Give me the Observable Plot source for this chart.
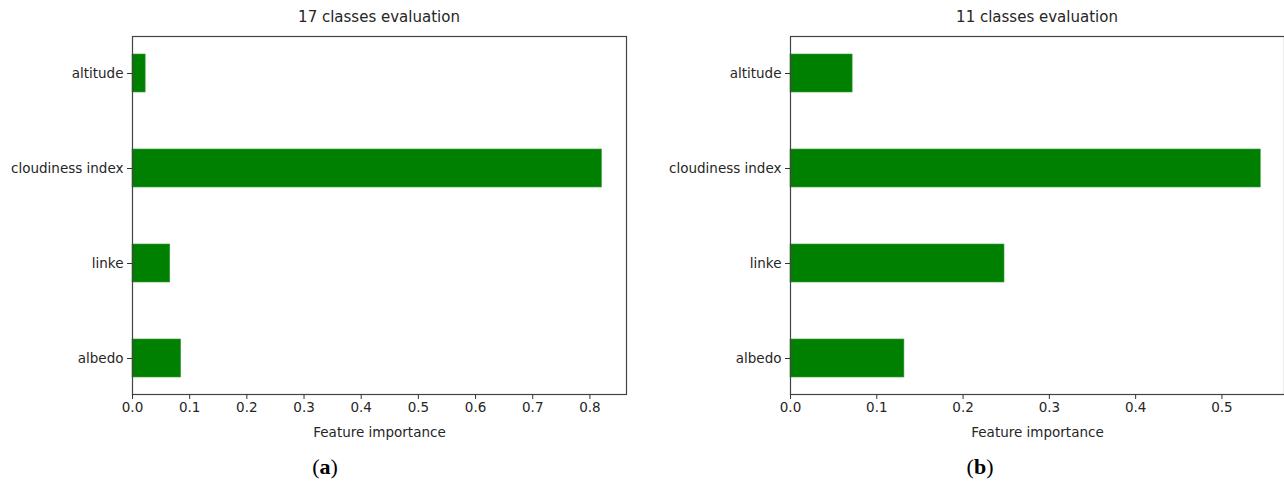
<!DOCTYPE html>
<html><head><meta charset="utf-8">
<script src="https://cdn.jsdelivr.net/npm/d3@7"></script>
<script src="https://cdn.jsdelivr.net/npm/@observablehq/plot@0.6"></script>
<style>
body{margin:0;background:#fff;}
#wrap{position:relative;width:1284px;height:487px;overflow:hidden;font-family:"DejaVu Sans",sans-serif;background:#fff;}
.panel{position:absolute;top:0;}
.title{position:absolute;top:8px;font-size:15px;color:#262626;text-align:center;white-space:nowrap;}
.cap{position:absolute;top:454px;font-family:"Liberation Serif",serif;font-size:22px;color:#000;text-align:center;}
</style></head><body>
<div id="wrap">
  <div class="panel" id="left" style="left:0px"></div>
  <div class="panel" id="right" style="left:640px"></div>
  <div class="title" style="left:132px;width:494px">17 classes evaluation</div>
  <div class="title" style="left:790px;width:494px">11 classes evaluation</div>
  <div class="cap" style="left:295px;width:60px">(<b>a</b>)</div>
  <div class="cap" style="left:950px;width:60px">(<b>b</b>)</div>
</div>
<script>
const features = ["altitude", "cloudiness index", "linke", "albedo"];
const importance17 = [0.023, 0.821, 0.066, 0.085];
const importance11 = [0.072, 0.545, 0.248, 0.132];
const ticks17 = [0, 0.1, 0.2, 0.3, 0.4, 0.5, 0.6, 0.7, 0.8];
const ticks11 = [0, 0.1, 0.2, 0.3, 0.4, 0.5];
const xLabel = "Feature importance";

function chart(values, xmax, ticks, width, ml, mr) {
  const data = features.map((f, i) => ({feature: f, value: values[i]}));
  return Plot.plot({
    width, height: 450,
    marginLeft: ml, marginRight: mr, marginTop: 36, marginBottom: 56,
    style: {fontFamily: "DejaVu Sans, sans-serif", fontSize: "13.5px", color: "#262626", background: "transparent"},
    x: {domain: [0, xmax]},
    y: {domain: features, paddingInner: 0.6, paddingOuter: 0.17},
    marks: [
      Plot.barX(data, {x: "value", y: "feature", fill: "#008000", stroke: "#3a9a3a", strokeWidth: 0.6}),
      Plot.frame({stroke: "#444", strokeWidth: 1.2}),
      Plot.axisX({ticks, tickFormat: d3.format(".1f"), tickSize: 5, tickPadding: 3, fontSize: 13.5,
        label: xLabel, labelAnchor: "center", labelArrow: "none", labelOffset: 42, stroke: "#333"}),
      Plot.axisY({tickSize: 5, tickPadding: 4, fontSize: 13.5, label: null, stroke: "#333"})
    ]
  });
}

document.getElementById("left").appendChild(chart(importance17, 0.864, ticks17, 640, 132, 14));
document.getElementById("right").appendChild(chart(importance11, 0.5725, ticks11, 644, 150, 0));
</script>
</body></html>
